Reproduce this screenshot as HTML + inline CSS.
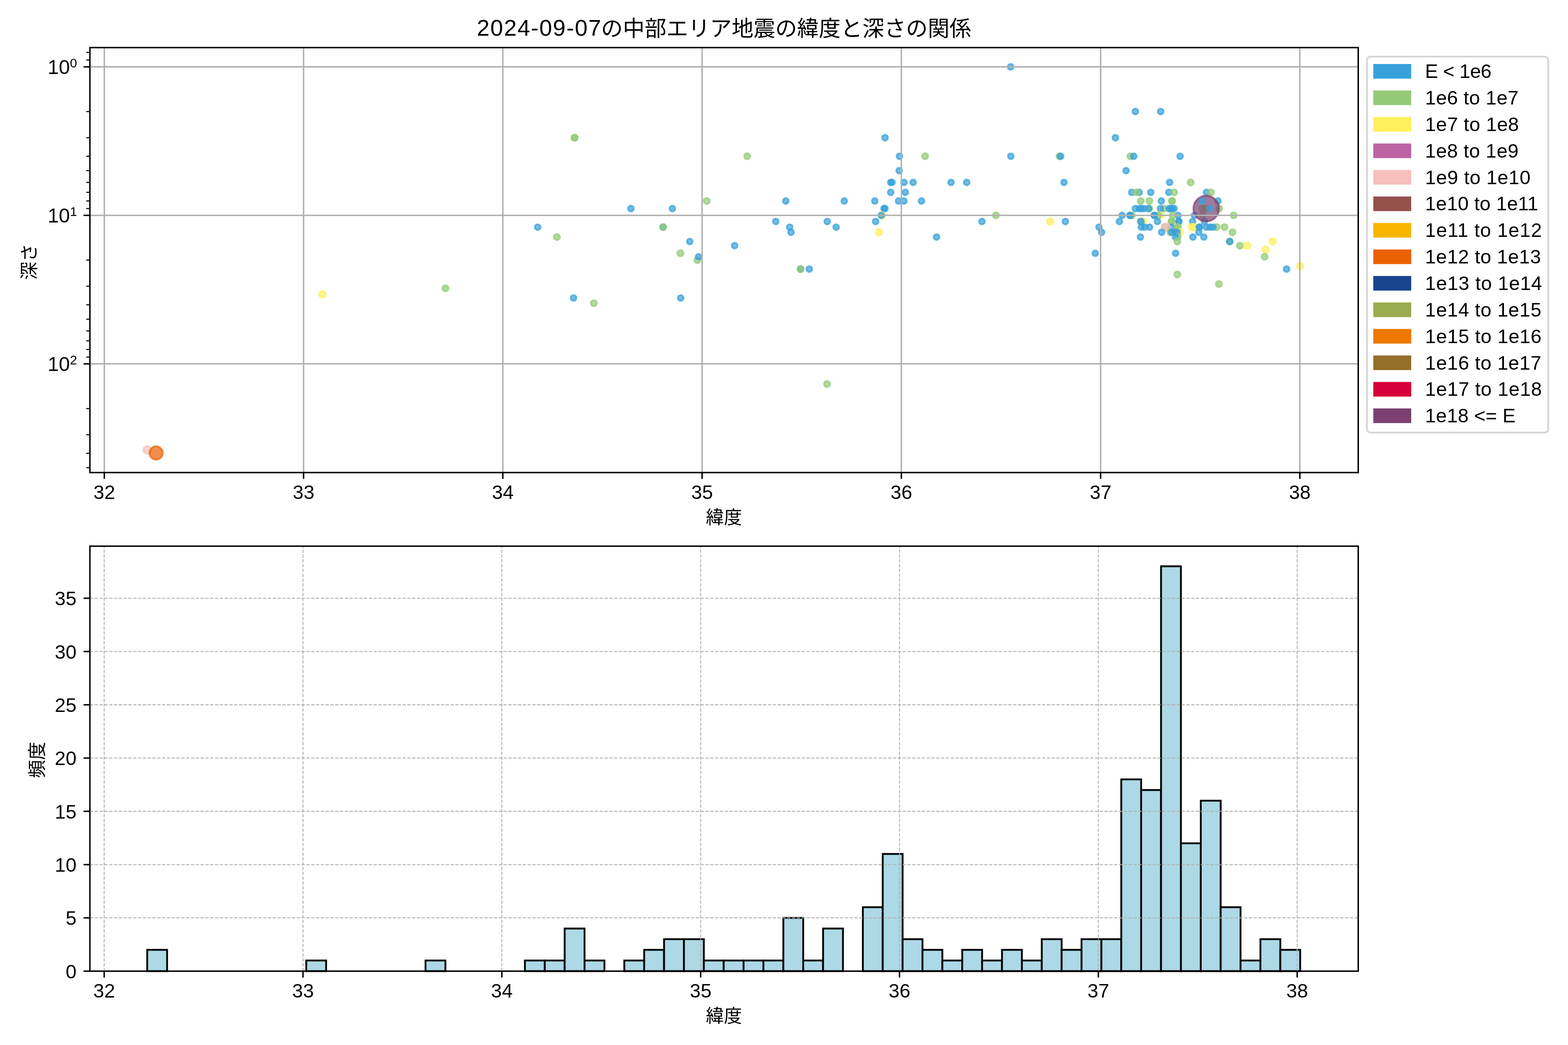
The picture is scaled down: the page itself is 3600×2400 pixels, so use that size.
<!DOCTYPE html>
<html lang="ja"><head><meta charset="utf-8">
<title>2024-09-07の中部エリア地震の緯度と深さの関係</title>
<style>
html,body{margin:0;padding:0;background:#fff}
body{width:3600px;height:2400px;overflow:hidden;font-family:"Liberation Sans",sans-serif}
svg{display:block;will-change:transform}
text{font-family:"Liberation Sans",sans-serif;fill:#000}
text.jp{font-family:"Liberation Sans","Noto Sans CJK JP",sans-serif;fill:#000}
.t{font-size:44.8px}
.sup{font-size:29.7px}
.lg{font-size:45.8px}
.ttl{font-size:52.5px}
.gr{stroke:#b0b0b0;stroke-width:3.33;fill:none}
.gd{stroke:#b0b0b0;stroke-width:2.08;stroke-dasharray:7.71 3.33;fill:none}
.tk{stroke:#000;stroke-width:3.33;fill:none}
.mt{stroke:#000;stroke-width:2.5;fill:none}
.sp{stroke:#000;stroke-width:3.33;fill:none;stroke-linejoin:miter}
.bar{fill:#add8e6;stroke:#000;stroke-width:4.17;stroke-linejoin:miter}
.pt{stroke-width:4.17;fill-opacity:.7;stroke-opacity:.7}
.B{fill:#38a1db;stroke:#38a1db}
.G{fill:#93ca76;stroke:#93ca76}
.Y{fill:#fff05c;stroke:#fff05c}
.P{fill:#f6bfbc;stroke:#f6bfbc}
.O{fill:#eb6101;stroke:#eb6101}
.V{fill:#7c4171;stroke:#7c4171}
</style></head><body>
<svg width="3600" height="2400" viewBox="0 0 3600 2400">
<rect width="3600" height="2400" fill="#fff"/>
<g id="scatter-axes">
<g class="pt">
<circle class="Y" cx="740.3" cy="675.89" r="7.55"/>
<circle class="G" cx="1022.7" cy="662.2" r="7"/>
<circle class="P" cx="337.8" cy="1033.3" r="8.7"/>
<circle class="O" cx="358.4" cy="1040.4" r="15.2"/>
<circle class="G" cx="1319.2" cy="316.25" r="7"/>
<circle class="G" cx="1319.2" cy="316.25" r="7"/>
<circle class="G" cx="1715.5" cy="358.86" r="7"/>
<circle class="G" cx="1622.6" cy="461.54" r="7"/>
<circle class="B" cx="1448.6" cy="478.99" r="6.6"/>
<circle class="B" cx="1543.7" cy="478.99" r="6.6"/>
<circle class="B" cx="1234.5" cy="521.61" r="6.6"/>
<circle class="G" cx="1278.5" cy="544.44" r="7"/>
<circle class="B" cx="1522.4" cy="521.61" r="6.6"/>
<circle class="G" cx="1522.4" cy="521.61" r="7"/>
<circle class="B" cx="1583.6" cy="554.66" r="6.6"/>
<circle class="B" cx="1686.6" cy="564.23" r="6.6"/>
<circle class="G" cx="1562" cy="581.67" r="7"/>
<circle class="G" cx="1601.3" cy="597.28" r="7"/>
<circle class="B" cx="1603.8" cy="589.68" r="6.6"/>
<circle class="B" cx="1316.7" cy="684.35" r="6.6"/>
<circle class="G" cx="1363.3" cy="696.21" r="7"/>
<circle class="B" cx="1562.8" cy="684.35" r="6.6"/>
<circle class="B" cx="2032" cy="316.25" r="6.6"/>
<circle class="B" cx="2065.1" cy="358.86" r="6.6"/>
<circle class="G" cx="2124" cy="358.86" r="7"/>
<circle class="B" cx="2064.5" cy="391.92" r="6.6"/>
<circle class="B" cx="2045" cy="418.93" r="6.6"/>
<circle class="B" cx="2048" cy="418.93" r="6.6"/>
<circle class="B" cx="2075.5" cy="418.93" r="6.6"/>
<circle class="B" cx="2096.5" cy="418.93" r="6.6"/>
<circle class="B" cx="2183.5" cy="418.93" r="6.6"/>
<circle class="B" cx="2219.5" cy="418.93" r="6.6"/>
<circle class="B" cx="2044.9" cy="441.76" r="6.6"/>
<circle class="B" cx="2078.6" cy="441.76" r="6.6"/>
<circle class="B" cx="1804.1" cy="461.54" r="6.6"/>
<circle class="B" cx="1938.3" cy="461.54" r="6.6"/>
<circle class="B" cx="2008.4" cy="461.54" r="6.6"/>
<circle class="B" cx="2062.9" cy="461.54" r="6.6"/>
<circle class="B" cx="2075.2" cy="461.54" r="6.6"/>
<circle class="B" cx="2115.6" cy="461.54" r="6.6"/>
<circle class="B" cx="2029.6" cy="478.99" r="6.6"/>
<circle class="B" cx="2031.6" cy="478.99" r="6.6"/>
<circle class="Y" cx="2025.5" cy="494.6" r="7.55"/>
<circle class="B" cx="2023.3" cy="494.6" r="6.6"/>
<circle class="G" cx="2286.5" cy="494.6" r="7"/>
<circle class="B" cx="1781.1" cy="508.72" r="6.6"/>
<circle class="B" cx="1899.3" cy="508.72" r="6.6"/>
<circle class="B" cx="2010.4" cy="508.72" r="6.6"/>
<circle class="B" cx="2254.5" cy="508.72" r="6.6"/>
<circle class="B" cx="1813.1" cy="521.61" r="6.6"/>
<circle class="B" cx="1919.7" cy="521.61" r="6.6"/>
<circle class="B" cx="1816.2" cy="533.47" r="6.6"/>
<circle class="Y" cx="2018" cy="533.47" r="7.55"/>
<circle class="B" cx="2150.1" cy="544.44" r="6.6"/>
<circle class="B" cx="1838.1" cy="617.99" r="6.6"/>
<circle class="G" cx="1838.1" cy="617.99" r="7"/>
<circle class="B" cx="1858" cy="617.99" r="6.6"/>
<circle class="G" cx="1898.7" cy="882" r="7"/>
<circle class="B" cx="2320.2" cy="153.5" r="6.6"/>
<circle class="B" cx="2606.7" cy="256.18" r="6.6"/>
<circle class="B" cx="2664.8" cy="256.18" r="6.6"/>
<circle class="B" cx="2560.9" cy="316.25" r="6.6"/>
<circle class="B" cx="2320.7" cy="358.86" r="6.6"/>
<circle class="G" cx="2432.4" cy="358.86" r="7"/>
<circle class="B" cx="2435.2" cy="358.86" r="6.6"/>
<circle class="G" cx="2595.2" cy="358.86" r="7"/>
<circle class="B" cx="2603" cy="358.86" r="6.6"/>
<circle class="B" cx="2709.4" cy="358.86" r="6.6"/>
<circle class="B" cx="2585.4" cy="391.92" r="6.6"/>
<circle class="B" cx="2442.8" cy="418.93" r="6.6"/>
<circle class="B" cx="2685.4" cy="418.93" r="6.6"/>
<circle class="G" cx="2733.6" cy="418.93" r="7"/>
<circle class="Y" cx="2411" cy="508.72" r="7.55"/>
<circle class="B" cx="2446.1" cy="508.72" r="6.6"/>
<circle class="B" cx="2523.1" cy="521.61" r="6.6"/>
<circle class="B" cx="2529.2" cy="533.47" r="6.6"/>
<circle class="B" cx="2514.6" cy="581.67" r="6.6"/>
<circle class="B" cx="2598.3" cy="441.76" r="6.6"/>
<circle class="B" cx="2615.5" cy="441.76" r="6.6"/>
<circle class="G" cx="2609.3" cy="441.76" r="7"/>
<circle class="B" cx="2642.1" cy="441.76" r="6.6"/>
<circle class="B" cx="2683.5" cy="441.76" r="6.6"/>
<circle class="G" cx="2695.6" cy="441.76" r="7"/>
<circle class="B" cx="2769.9" cy="441.76" r="6.6"/>
<circle class="G" cx="2780.1" cy="441.76" r="7"/>
<circle class="G" cx="2619.1" cy="461.54" r="7"/>
<circle class="G" cx="2638.9" cy="461.54" r="7"/>
<circle class="B" cx="2666.3" cy="461.54" r="6.6"/>
<circle class="G" cx="2690.8" cy="461.54" r="7"/>
<circle class="G" cx="2690.8" cy="461.54" r="7"/>
<circle class="B" cx="2796.4" cy="461.54" r="6.6"/>
<circle class="B" cx="2606.7" cy="478.99" r="6.6"/>
<circle class="B" cx="2616" cy="478.99" r="6.6"/>
<circle class="B" cx="2620.4" cy="478.99" r="6.6"/>
<circle class="B" cx="2626.2" cy="478.99" r="6.6"/>
<circle class="G" cx="2638.5" cy="478.99" r="7"/>
<circle class="B" cx="2637" cy="478.99" r="6.6"/>
<circle class="G" cx="2672" cy="478.99" r="7"/>
<circle class="B" cx="2664.3" cy="478.99" r="6.6"/>
<circle class="B" cx="2684.2" cy="478.99" r="6.6"/>
<circle class="B" cx="2688" cy="478.99" r="6.6"/>
<circle class="B" cx="2691.2" cy="478.99" r="6.6"/>
<circle class="B" cx="2695.6" cy="478.99" r="6.6"/>
<circle class="G" cx="2760" cy="478.99" r="7"/>
<circle class="G" cx="2769" cy="478.99" r="7"/>
<circle class="G" cx="2799" cy="478.99" r="7"/>
<circle class="B" cx="2576.4" cy="494.6" r="6.6"/>
<circle class="G" cx="2598.7" cy="494.6" r="7"/>
<circle class="B" cx="2594.3" cy="494.6" r="6.6"/>
<circle class="B" cx="2594.3" cy="494.6" r="6.6"/>
<circle class="Y" cx="2664.1" cy="494.6" r="7.55"/>
<circle class="G" cx="2659.3" cy="494.6" r="7"/>
<circle class="B" cx="2650" cy="494.6" r="6.6"/>
<circle class="B" cx="2650" cy="494.6" r="6.6"/>
<circle class="B" cx="2704.6" cy="494.6" r="6.6"/>
<circle class="G" cx="2692.2" cy="494.6" r="7"/>
<circle class="B" cx="2742.2" cy="494.6" r="6.6"/>
<circle class="G" cx="2761.3" cy="494.6" r="7"/>
<circle class="G" cx="2832.5" cy="494.6" r="7"/>
<circle class="B" cx="2570" cy="508.72" r="6.6"/>
<circle class="Y" cx="2624.3" cy="508.72" r="7.55"/>
<circle class="G" cx="2619.2" cy="508.72" r="7"/>
<circle class="B" cx="2619.2" cy="508.72" r="6.6"/>
<circle class="B" cx="2657.4" cy="508.72" r="6.6"/>
<circle class="B" cx="2706.5" cy="508.72" r="6.6"/>
<circle class="B" cx="2706.5" cy="508.72" r="6.6"/>
<circle class="G" cx="2689.9" cy="508.72" r="7"/>
<circle class="G" cx="2689.9" cy="508.72" r="7"/>
<circle class="B" cx="2738.1" cy="508.72" r="6.6"/>
<circle class="B" cx="2765.2" cy="508.72" r="6.6"/>
<circle class="V" cx="2769.4" cy="478.99" r="29.4"/>
<circle class="B" cx="2760.4" cy="461.54" r="6.6"/>
<circle class="B" cx="2777.9" cy="478.99" r="6.6"/>
<circle class="B" cx="2620.4" cy="521.61" r="6.6"/>
<circle class="B" cx="2628.1" cy="521.61" r="6.6"/>
<circle class="B" cx="2639.3" cy="521.61" r="6.6"/>
<circle class="G" cx="2674" cy="521.61" r="7"/>
<circle class="B" cx="2689.3" cy="521.61" r="6.6"/>
<circle class="P" cx="2677.1" cy="521.61" r="8.7"/>
<circle class="G" cx="2703.9" cy="521.61" r="7"/>
<circle class="G" cx="2703.9" cy="521.61" r="7"/>
<circle class="Y" cx="2736" cy="521.61" r="7.55"/>
<circle class="Y" cx="2741.5" cy="521.61" r="7.55"/>
<circle class="B" cx="2753.7" cy="521.61" r="6.6"/>
<circle class="B" cx="2753.7" cy="521.61" r="6.6"/>
<circle class="G" cx="2793.2" cy="521.61" r="7"/>
<circle class="B" cx="2769.6" cy="521.61" r="6.6"/>
<circle class="B" cx="2777.9" cy="521.61" r="6.6"/>
<circle class="B" cx="2784.9" cy="521.61" r="6.6"/>
<circle class="G" cx="2811.3" cy="521.61" r="7"/>
<circle class="B" cx="2667.1" cy="533.47" r="6.6"/>
<circle class="G" cx="2687.3" cy="533.47" r="7"/>
<circle class="Y" cx="2708.4" cy="533.47" r="7.55"/>
<circle class="B" cx="2690" cy="533.47" r="6.6"/>
<circle class="B" cx="2697.6" cy="533.47" r="6.6"/>
<circle class="B" cx="2702.7" cy="533.47" r="6.6"/>
<circle class="B" cx="2752.4" cy="533.47" r="6.6"/>
<circle class="G" cx="2829.6" cy="533.47" r="7"/>
<circle class="B" cx="2618.3" cy="544.44" r="6.6"/>
<circle class="G" cx="2703.9" cy="544.44" r="7"/>
<circle class="B" cx="2698.8" cy="544.44" r="6.6"/>
<circle class="B" cx="2738.8" cy="544.44" r="6.6"/>
<circle class="B" cx="2763.9" cy="544.44" r="6.6"/>
<circle class="G" cx="2703" cy="554.66" r="7"/>
<circle class="G" cx="2823.3" cy="554.66" r="7"/>
<circle class="B" cx="2823.3" cy="554.66" r="6.6"/>
<circle class="Y" cx="2921.8" cy="554.66" r="7.55"/>
<circle class="G" cx="2846.9" cy="564.23" r="7"/>
<circle class="Y" cx="2863.1" cy="564.23" r="7.55"/>
<circle class="Y" cx="2905.9" cy="573.21" r="7.55"/>
<circle class="B" cx="2699.1" cy="581.67" r="6.6"/>
<circle class="G" cx="2903.5" cy="589.68" r="7"/>
<circle class="Y" cx="2985.1" cy="611.4" r="7.55"/>
<circle class="B" cx="2953.9" cy="617.99" r="6.6"/>
<circle class="G" cx="2703" cy="630.34" r="7"/>
<circle class="G" cx="2798.3" cy="652.32" r="7"/>
</g>
<path class="gr" d="M239.5 109.3V1085.3"/>
<path class="gr" d="M696.98 109.3V1085.3"/>
<path class="gr" d="M1154.46 109.3V1085.3"/>
<path class="gr" d="M1611.94 109.3V1085.3"/>
<path class="gr" d="M2069.42 109.3V1085.3"/>
<path class="gr" d="M2526.9 109.3V1085.3"/>
<path class="gr" d="M2984.38 109.3V1085.3"/>
<path class="gr" d="M206.4 153.5H3118.4"/>
<path class="gr" d="M206.4 494.6H3118.4"/>
<path class="gr" d="M206.4 835.7H3118.4"/>
<path class="tk" d="M239.5 1085.3v14.58"/>
<path class="tk" d="M696.98 1085.3v14.58"/>
<path class="tk" d="M1154.46 1085.3v14.58"/>
<path class="tk" d="M1611.94 1085.3v14.58"/>
<path class="tk" d="M2069.42 1085.3v14.58"/>
<path class="tk" d="M2526.9 1085.3v14.58"/>
<path class="tk" d="M2984.38 1085.3v14.58"/>
<path class="tk" d="M206.4 153.5h-14.58"/>
<path class="tk" d="M206.4 494.6h-14.58"/>
<path class="tk" d="M206.4 835.7h-14.58"/>
<path class="mt" d="M206.4 120.44h-8.33"/>
<path class="mt" d="M206.4 137.89h-8.33"/>
<path class="mt" d="M206.4 256.18h-8.33"/>
<path class="mt" d="M206.4 316.25h-8.33"/>
<path class="mt" d="M206.4 358.86h-8.33"/>
<path class="mt" d="M206.4 391.92h-8.33"/>
<path class="mt" d="M206.4 418.93h-8.33"/>
<path class="mt" d="M206.4 441.76h-8.33"/>
<path class="mt" d="M206.4 461.54h-8.33"/>
<path class="mt" d="M206.4 478.99h-8.33"/>
<path class="mt" d="M206.4 597.28h-8.33"/>
<path class="mt" d="M206.4 657.35h-8.33"/>
<path class="mt" d="M206.4 699.96h-8.33"/>
<path class="mt" d="M206.4 733.02h-8.33"/>
<path class="mt" d="M206.4 760.03h-8.33"/>
<path class="mt" d="M206.4 782.86h-8.33"/>
<path class="mt" d="M206.4 802.64h-8.33"/>
<path class="mt" d="M206.4 820.09h-8.33"/>
<path class="mt" d="M206.4 938.38h-8.33"/>
<path class="mt" d="M206.4 998.45h-8.33"/>
<path class="mt" d="M206.4 1041.06h-8.33"/>
<path class="mt" d="M206.4 1074.12h-8.33"/>
<rect class="sp" x="206.4" y="109.3" width="2912" height="976"/>
<text class="t" x="239.5" y="1146" text-anchor="middle">32</text>
<text class="t" x="696.98" y="1146" text-anchor="middle">33</text>
<text class="t" x="1154.46" y="1146" text-anchor="middle">34</text>
<text class="t" x="1611.94" y="1146" text-anchor="middle">35</text>
<text class="t" x="2069.42" y="1146" text-anchor="middle">36</text>
<text class="t" x="2526.9" y="1146" text-anchor="middle">37</text>
<text class="t" x="2984.38" y="1146" text-anchor="middle">38</text>
<text class="lg" x="177" y="169.8" text-anchor="end">10<tspan class="sup" dy="-15">0</tspan></text>
<text class="lg" x="177" y="510.9" text-anchor="end">10<tspan class="sup" dy="-15">1</tspan></text>
<text class="lg" x="177" y="852" text-anchor="end">10<tspan class="sup" dy="-15">2</tspan></text>
</g>
<text class="ttl" x="1094.8" y="82.3" textLength="285.2" lengthAdjust="spacing">2024-09-07</text>
<text class="jp" x="1380" y="82.8" font-size="50" textLength="850" lengthAdjust="spacing">の中部エリア地震の緯度と深さの関係</text>
<text class="jp" x="1620.4" y="1202.7" font-size="41.67" textLength="83.34" lengthAdjust="spacing">緯度</text>
<text class="jp" transform="translate(81.5 642.8) rotate(-90)" x="0" y="0" font-size="41.67" textLength="83.34" lengthAdjust="spacing">深さ</text>
<g id="legend">
<rect x="3138.4" y="130" width="416.3" height="863.5" rx="8.3" ry="8.3" fill="#fff" stroke="#d6d6d6" stroke-width="4.17"/>
<rect x="3153" y="147" width="87" height="33.6" fill="#38a1db"/>
<text class="t" x="3271.8" y="179.2" textLength="152.7" lengthAdjust="spacing">E &lt; 1e6</text>
<rect x="3153" y="207.85" width="87" height="33.6" fill="#93ca76"/>
<text class="t" x="3271.8" y="240.05" textLength="214.6" lengthAdjust="spacing">1e6 to 1e7</text>
<rect x="3153" y="268.7" width="87" height="33.6" fill="#fff05c"/>
<text class="t" x="3271.8" y="300.9" textLength="215.4" lengthAdjust="spacing">1e7 to 1e8</text>
<rect x="3153" y="329.55" width="87" height="33.6" fill="#bc64a4"/>
<text class="t" x="3271.8" y="361.75" textLength="214.6" lengthAdjust="spacing">1e8 to 1e9</text>
<rect x="3153" y="390.4" width="87" height="33.6" fill="#f6bfbc"/>
<text class="t" x="3271.8" y="422.6" textLength="242.1" lengthAdjust="spacing">1e9 to 1e10</text>
<rect x="3153" y="451.25" width="87" height="33.6" fill="#96514d"/>
<text class="t" x="3271.8" y="483.45" textLength="259.9" lengthAdjust="spacing">1e10 to 1e11</text>
<rect x="3153" y="512.1" width="87" height="33.6" fill="#f8b500"/>
<text class="t" x="3271.8" y="544.3" textLength="268" lengthAdjust="spacing">1e11 to 1e12</text>
<rect x="3153" y="572.95" width="87" height="33.6" fill="#eb6101"/>
<text class="t" x="3271.8" y="605.15" textLength="266" lengthAdjust="spacing">1e12 to 1e13</text>
<rect x="3153" y="633.8" width="87" height="33.6" fill="#19448e"/>
<text class="t" x="3271.8" y="666" textLength="268.7" lengthAdjust="spacing">1e13 to 1e14</text>
<rect x="3153" y="694.65" width="87" height="33.6" fill="#9aab4f"/>
<text class="t" x="3271.8" y="726.85" textLength="267" lengthAdjust="spacing">1e14 to 1e15</text>
<rect x="3153" y="755.5" width="87" height="33.6" fill="#ee7800"/>
<text class="t" x="3271.8" y="787.7" textLength="267.4" lengthAdjust="spacing">1e15 to 1e16</text>
<rect x="3153" y="816.35" width="87" height="33.6" fill="#956f29"/>
<text class="t" x="3271.8" y="848.55" textLength="267" lengthAdjust="spacing">1e16 to 1e17</text>
<rect x="3153" y="877.2" width="87" height="33.6" fill="#d7003a"/>
<text class="t" x="3271.8" y="909.4" textLength="268" lengthAdjust="spacing">1e17 to 1e18</text>
<rect x="3153" y="938.05" width="87" height="33.6" fill="#7c4171"/>
<text class="t" x="3271.8" y="970.25" textLength="207.8" lengthAdjust="spacing">1e18 &lt;= E</text>
</g>
<g id="hist-axes">
<rect class="bar" x="338" y="2181.46" width="45.64" height="48.94"/>
<rect class="bar" x="703.12" y="2205.93" width="45.64" height="24.47"/>
<rect class="bar" x="976.96" y="2205.93" width="45.64" height="24.47"/>
<rect class="bar" x="1205.16" y="2205.93" width="45.64" height="24.47"/>
<rect class="bar" x="1250.8" y="2205.93" width="45.64" height="24.47"/>
<rect class="bar" x="1296.44" y="2132.52" width="45.64" height="97.88"/>
<rect class="bar" x="1342.08" y="2205.93" width="45.64" height="24.47"/>
<rect class="bar" x="1433.36" y="2205.93" width="45.64" height="24.47"/>
<rect class="bar" x="1479" y="2181.46" width="45.64" height="48.94"/>
<rect class="bar" x="1524.64" y="2156.99" width="45.64" height="73.41"/>
<rect class="bar" x="1570.28" y="2156.99" width="45.64" height="73.41"/>
<rect class="bar" x="1615.92" y="2205.93" width="45.64" height="24.47"/>
<rect class="bar" x="1661.56" y="2205.93" width="45.64" height="24.47"/>
<rect class="bar" x="1707.2" y="2205.93" width="45.64" height="24.47"/>
<rect class="bar" x="1752.84" y="2205.93" width="45.64" height="24.47"/>
<rect class="bar" x="1798.48" y="2108.05" width="45.64" height="122.35"/>
<rect class="bar" x="1844.12" y="2205.93" width="45.64" height="24.47"/>
<rect class="bar" x="1889.76" y="2132.52" width="45.64" height="97.88"/>
<rect class="bar" x="1981.04" y="2083.58" width="45.64" height="146.82"/>
<rect class="bar" x="2026.68" y="1961.23" width="45.64" height="269.17"/>
<rect class="bar" x="2072.32" y="2156.99" width="45.64" height="73.41"/>
<rect class="bar" x="2117.96" y="2181.46" width="45.64" height="48.94"/>
<rect class="bar" x="2163.6" y="2205.93" width="45.64" height="24.47"/>
<rect class="bar" x="2209.24" y="2181.46" width="45.64" height="48.94"/>
<rect class="bar" x="2254.88" y="2205.93" width="45.64" height="24.47"/>
<rect class="bar" x="2300.52" y="2181.46" width="45.64" height="48.94"/>
<rect class="bar" x="2346.16" y="2205.93" width="45.64" height="24.47"/>
<rect class="bar" x="2391.8" y="2156.99" width="45.64" height="73.41"/>
<rect class="bar" x="2437.44" y="2181.46" width="45.64" height="48.94"/>
<rect class="bar" x="2483.08" y="2156.99" width="45.64" height="73.41"/>
<rect class="bar" x="2528.72" y="2156.99" width="45.64" height="73.41"/>
<rect class="bar" x="2574.36" y="1789.94" width="45.64" height="440.46"/>
<rect class="bar" x="2620" y="1814.41" width="45.64" height="415.99"/>
<rect class="bar" x="2665.64" y="1300.54" width="45.64" height="929.86"/>
<rect class="bar" x="2711.28" y="1936.76" width="45.64" height="293.64"/>
<rect class="bar" x="2756.92" y="1838.88" width="45.64" height="391.52"/>
<rect class="bar" x="2802.56" y="2083.58" width="45.64" height="146.82"/>
<rect class="bar" x="2848.2" y="2205.93" width="45.64" height="24.47"/>
<rect class="bar" x="2893.84" y="2156.99" width="45.64" height="73.41"/>
<rect class="bar" x="2939.48" y="2181.46" width="45.64" height="48.94"/>
<path class="gd" d="M239.2 2230.4V1254.35"/>
<path class="gd" d="M695.7 2230.4V1254.35"/>
<path class="gd" d="M1152.2 2230.4V1254.35"/>
<path class="gd" d="M1608.7 2230.4V1254.35"/>
<path class="gd" d="M2065.2 2230.4V1254.35"/>
<path class="gd" d="M2521.7 2230.4V1254.35"/>
<path class="gd" d="M2978.2 2230.4V1254.35"/>
<path class="gd" d="M206.4 2230.4H3118.4"/>
<path class="gd" d="M206.4 2108.05H3118.4"/>
<path class="gd" d="M206.4 1985.7H3118.4"/>
<path class="gd" d="M206.4 1863.35H3118.4"/>
<path class="gd" d="M206.4 1741H3118.4"/>
<path class="gd" d="M206.4 1618.65H3118.4"/>
<path class="gd" d="M206.4 1496.3H3118.4"/>
<path class="gd" d="M206.4 1373.95H3118.4"/>
<path class="tk" d="M239.2 2230.4v14.58"/>
<path class="tk" d="M695.7 2230.4v14.58"/>
<path class="tk" d="M1152.2 2230.4v14.58"/>
<path class="tk" d="M1608.7 2230.4v14.58"/>
<path class="tk" d="M2065.2 2230.4v14.58"/>
<path class="tk" d="M2521.7 2230.4v14.58"/>
<path class="tk" d="M2978.2 2230.4v14.58"/>
<path class="tk" d="M206.4 2230.4h-14.58"/>
<path class="tk" d="M206.4 2108.05h-14.58"/>
<path class="tk" d="M206.4 1985.7h-14.58"/>
<path class="tk" d="M206.4 1863.35h-14.58"/>
<path class="tk" d="M206.4 1741h-14.58"/>
<path class="tk" d="M206.4 1618.65h-14.58"/>
<path class="tk" d="M206.4 1496.3h-14.58"/>
<path class="tk" d="M206.4 1373.95h-14.58"/>
<rect class="sp" x="206.4" y="1254.35" width="2912" height="976.05"/>
<text class="t" x="239.2" y="2290.9" text-anchor="middle">32</text>
<text class="t" x="695.7" y="2290.9" text-anchor="middle">33</text>
<text class="t" x="1152.2" y="2290.9" text-anchor="middle">34</text>
<text class="t" x="1608.7" y="2290.9" text-anchor="middle">35</text>
<text class="t" x="2065.2" y="2290.9" text-anchor="middle">36</text>
<text class="t" x="2521.7" y="2290.9" text-anchor="middle">37</text>
<text class="t" x="2978.2" y="2290.9" text-anchor="middle">38</text>
<text class="t" x="175.6" y="2246.7" text-anchor="end">0</text>
<text class="t" x="175.6" y="2124.35" text-anchor="end">5</text>
<text class="t" x="175.6" y="2002" text-anchor="end">10</text>
<text class="t" x="175.6" y="1879.65" text-anchor="end">15</text>
<text class="t" x="175.6" y="1757.3" text-anchor="end">20</text>
<text class="t" x="175.6" y="1634.95" text-anchor="end">25</text>
<text class="t" x="175.6" y="1512.6" text-anchor="end">30</text>
<text class="t" x="175.6" y="1390.25" text-anchor="end">35</text>
</g>
<text class="jp" x="1620.4" y="2347.8" font-size="41.67" textLength="83.34" lengthAdjust="spacing">緯度</text>
<text class="jp" transform="translate(100 1787) rotate(-90)" x="0" y="0" font-size="41.67" textLength="83.34" lengthAdjust="spacing">頻度</text>
</svg></body></html>
